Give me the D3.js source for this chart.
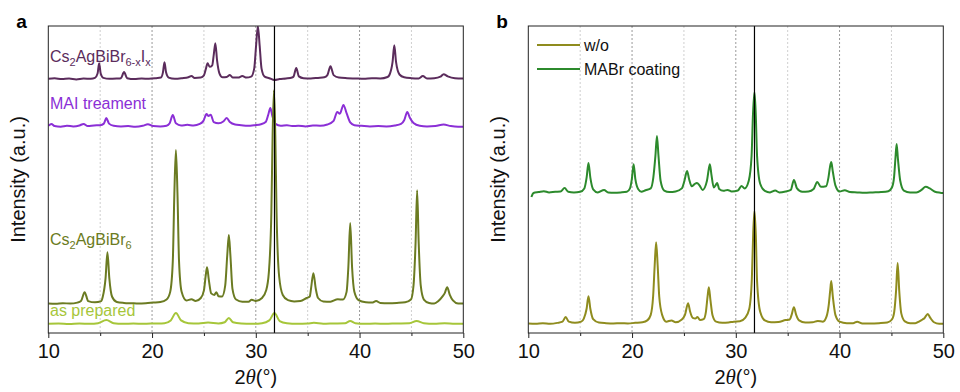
<!DOCTYPE html>
<html>
<head>
<meta charset="utf-8">
<script src="https://cdn.jsdelivr.net/npm/d3@7"></script>
<style>
	body { margin: 0; background: #fff; }
	svg { display: block; font-family: "Liberation Sans", Arial, sans-serif; }
</style>
</head>
<body>
<div id="chart"></div>
<script>
var width = 960;
var height = 392;

// x 轴刻度
var xMajor = [10, 20, 30, 40, 50];
var xMinor = [15, 25, 35, 45];
var refLine = 31.8;

// 各曲线的纵向偏移（a.u.）
var offsetsA = [82.7, 67.1, 9.4, 2.9];
var offsetsB = [2.9, 45.6];

var namesA = ["Cs2AgBiBr6-xIx", "MAI treament", "Cs2AgBiBr6", "as prepared"];
var colorsA = ["#5b2c5c", "#8b2fd6", "#6b7b22", "#a6c63a"];
var namesB = ["w/o", "MABr coating"];
var colorsB = ["#8f8c1e", "#2c8a2c"];

// panel a: Cs2AgBiBr6-xIx
var seriesA1 = [[10,0.1],[10.6,0.3],[11.3,0],[12,0.2],[12.7,-0.1],[13.4,0.2],[14.1,0.1],
	[14.5,0.4],[14.75,1.8],[14.9,5.2],[15.05,1.8],[15.3,0.4],[15.9,0.1],[16.6,0.2],
	[17.0,0.3],[17.3,2.3],[17.6,0.3],[18.3,0],[19.0,0.2],[19.7,0.1],[20.4,0.3],
	[20.85,0.5],[21.05,2.2],[21.2,5.5],[21.35,2.2],[21.6,0.5],[22.2,0.1],[22.9,0.3],[23.5,0.6],[23.8,1.0],[24.1,0.4],[24.7,0.5],
	[25.0,1.2],[25.2,3.5],[25.35,5.2],[25.55,4.0],[25.8,4.5],[25.95,8.0],[26.1,11.7],[26.27,6.0],[26.5,1.8],[26.8,0.6],
	[27.2,0.7],[27.5,1.3],[27.8,0.5],[28.3,0.5],[28.7,1.0],[29.1,0.5],
	[29.55,0.8],[29.85,3.5],[30.03,11],[30.2,17.2],[30.37,11],[30.55,3.5],[30.85,0.8],
	[31.3,0.3],[31.8,-0.3],[32.3,0],[32.9,0.2],[33.5,0.5],[33.65,0.9],[33.9,3.6],[34.15,0.9],
	[34.6,0.3],[35.3,0.2],[36.0,0.4],[36.6,0.6],[36.9,1.3],[37.2,4.2],[37.5,1.3],
	[38.0,0.5],[38.8,0.3],[39.6,0.2],[40.4,0.1],[41.2,0.3],[42.0,0.2],[42.7,0.7],
	[42.9,1.5],[43.18,5.5],[43.35,11],[43.52,5.5],[43.85,1.5],
	[44.3,0.6],[45.0,0.3],[45.7,0.2],[46.1,1.0],[46.5,0.2],[47.2,0.3],[47.8,0.8],[48.1,1.6],[48.5,0.9],[49.2,0.3],[50,0.2]];

// panel a: MAI treament
var seriesA2 = [[10,0.4],[10.3,1.0],[10.6,0.3],[11.2,0.1],[11.8,0.4],[12.4,0.2],[13.0,0.5],[13.4,1.0],[13.8,0.3],[14.4,0.5],[15.0,0.6],
	[15.35,1.1],[15.6,2.9],[15.85,1.1],[16.3,0.4],[17.0,0.2],[17.7,0.3],[18.4,0.1],[19.1,0.4],[19.6,0.9],[20.1,0.3],[20.8,0.2],[21.4,0.4],
	[21.7,1.2],[22.0,3.9],[22.3,1.2],[22.8,0.5],[23.4,0.7],[24.0,0.5],[24.6,1.0],
	[24.95,2.0],[25.25,4.2],[25.45,3.6],[25.65,4.0],[25.95,1.6],
	[26.4,1.2],[26.9,1.9],[27.2,2.9],[27.5,1.6],[28.0,0.8],[28.6,0.6],[29.2,0.4],[29.9,0.6],[30.5,0.9],
	[30.95,1.6],[31.2,4.0],[31.4,6.2],[31.6,3.5],[31.9,1.0],
	[32.4,0.4],[33.0,0.6],[33.5,0.3],[34.1,0.4],[34.8,0.2],[35.5,0.5],[36.2,0.4],[36.9,0.8],
	[37.5,2.0],[37.85,4.9],[38.1,4.3],[38.45,7.2],[38.75,4.5],[39.1,1.5],[39.5,0.6],
	[40.2,0.4],[41.0,0.2],[41.8,0.3],[42.6,0.2],[43.4,0.5],[44.0,1.0],
	[44.3,2.2],[44.6,4.9],[44.85,3.0],[45.2,1.3],
	[45.8,0.4],[46.5,0.2],[47.3,0.3],[48.1,0.8],[48.8,0.3],[49.5,0.1],[50,0.1]];

// panel a: Cs2AgBiBr6
var seriesA3 = [[10,0.2],[10.7,0.1],[11.4,0.3],[12.1,0.2],[12.8,0.5],
	[13.15,1.0],[13.5,3.9],[13.85,1.0],[14.5,0.6],[15.1,1.0],
	[15.25,2.4],[15.52,8.5],[15.7,16.9],[15.88,8.5],[16.15,2.4],
	[16.6,0.7],[17.3,0.4],[18.0,0.3],[18.7,0.2],[19.4,0.3],[20.1,0.5],[20.8,0.7],[21.4,1.5],
	[21.75,4],[22.0,14],[22.15,36],[22.3,50.2],[22.45,36],[22.6,14],[22.85,4],
	[23.3,1.2],[23.8,1.6],[24.2,1.0],[24.7,2.0],
	[25.0,4.5],[25.18,9.5],[25.3,12],[25.47,8],[25.7,3.5],[26.0,3.0],[26.2,3.9],[26.4,2.6],[26.75,2.5],
	[27.05,6],[27.25,16],[27.4,22.5],[27.55,16],[27.75,5],
	[28.1,1.5],[28.7,0.8],[29.3,0.8],[29.6,1.4],[30.0,1.0],[30.6,2.0],[31.0,4.5],
	[31.25,10],[31.5,30],[31.62,55],[31.75,69.7],[31.88,55],[32.0,30],[32.25,9],
	[32.6,3.0],[33.1,1.3],[33.7,0.9],[34.3,1.0],[34.9,2.0],[35.2,2.5],
	[35.32,5],[35.55,10.1],[35.78,5],[36.0,2.0],
	[36.5,0.9],[37.2,0.8],[37.9,1.6],[38.4,1.5],[38.75,4],
	[38.92,12],[39.1,26.4],[39.28,12],[39.5,4],
	[39.9,1.3],[40.6,0.6],[41.2,0.5],[41.6,1.0],[42.0,0.4],[42.8,0.3],[43.6,0.4],[44.4,0.6],[44.95,1.5],
	[45.2,6],[45.4,20],[45.55,37.1],[45.7,20],[45.9,6],
	[46.2,1.5],[46.7,0.4],[47.2,0.2],[47.6,1.0],[48.0,2.5],[48.2,3.5],[48.45,5.5],[48.7,3.0],[49.0,1.2],[49.5,0.2],[50,0.2]];

// panel a: as prepared
var seriesA4 = [[10,0.1],[11,0.2],[12,0],[13,0.2],[14,0.1],[14.8,0.3],[15.6,1.3],[16.3,0.3],[17.2,0.1],[18.2,0.2],[19.2,0.1],
	[20.2,0.2],[21.2,0.3],[21.8,1.2],[22.3,3.6],[22.8,1.2],[23.5,0.3],[24.5,0.2],[25.4,0.5],[26.4,0.2],
	[27.0,0.6],[27.4,2.0],[27.8,0.6],[28.6,0.2],[29.6,0.1],[30.6,0.3],[31.3,1.2],[31.8,3.6],[32.3,1.0],[33.0,0.3],
	[34,0.1],[35,0.2],[35.6,0.4],[36.5,0.1],[37.5,0.2],[38.6,0.3],[39.1,1.0],[39.6,0.3],[40.5,0.1],[41.5,0.2],
	[42.5,0.1],[43.5,0.2],[44.8,0.3],[45.5,1.0],[46.2,0.3],[47.2,0.1],[48.2,0.3],[49.2,0.1],[50,0.1]];

// panel b: w/o
var seriesB1 = [[10,0.2],[10.7,0.1],[11.4,0.3],[12.1,0.1],[12.8,0.4],
	[13.3,0.8],[13.6,2.3],[13.9,0.8],[14.5,0.4],[15.1,0.8],
	[15.35,1.8],[15.62,5.0],[15.8,9.1],[15.98,5.0],[16.25,1.6],
	[16.8,0.5],[17.5,0.3],[18.2,0.2],[18.9,0.3],[19.6,0.2],[20.3,0.4],[21.0,0.6],[21.5,1.3],
	[21.8,3],[22.03,9],[22.18,19],[22.32,26.7],[22.47,19],[22.62,9],[22.9,3],
	[23.3,0.8],[23.8,1.2],[24.2,0.6],[24.8,1.5],
	[25.1,3.0],[25.4,6.8],[25.6,4.0],[25.85,2.0],[26.1,1.8],[26.3,2.3],[26.55,1.3],[26.9,1.6],
	[27.12,4],[27.28,9],[27.4,12],[27.55,8],[27.75,3],
	[28.1,0.8],[28.7,0.4],[29.3,0.5],[29.8,0.8],[30.4,0.9],[30.9,2.0],
	[31.3,5],[31.55,15],[31.68,30],[31.8,36.8],[31.93,29],[32.05,14],[32.35,4],
	[32.8,1.2],[33.4,0.6],[34.1,0.7],[34.8,1.3],[35.2,1.5],
	[35.38,3.0],[35.6,5.5],[35.82,3.0],[36.1,1.2],
	[36.7,0.5],[37.4,0.6],[37.9,1.0],[38.4,0.8],[38.75,2.5],
	[38.95,6],[39.1,11],[39.2,14],[39.35,9],[39.6,3],
	[40.0,0.8],[40.7,0.3],[41.3,0.3],[41.7,0.8],[42.2,0.2],[43.0,0.2],[43.8,0.3],[44.6,0.5],[45.05,1.5],
	[45.27,4],[45.45,11],[45.6,19.9],[45.75,11],[45.95,3.5],
	[46.3,0.9],[46.8,0.3],[47.3,0.3],[47.7,0.9],[48.0,1.5],[48.2,2.0],[48.5,3.3],[48.75,2.0],[49.1,0.6],[49.6,0.1],[50,0.1]];

// panel b: MABr coating
var seriesB2 = [[10.3,-1.3],[10.5,0],[11.0,0.3],[11.5,0.6],[12.0,0.2],[12.6,0.4],[13.1,0.5],
	[13.5,1.6],[13.85,0.4],[14.4,0.2],[15.0,0.4],[15.4,1.5],
	[15.62,5],[15.8,9.8],[15.98,5],[16.25,1.2],
	[16.7,0.2],[17.3,1.0],[17.7,0.2],[18.3,0.1],[18.9,0.2],[19.5,0.4],[19.8,1.5],
	[19.98,4.5],[20.15,9.4],[20.32,4.5],[20.6,1.2],
	[20.9,0.4],[21.3,0.9],[21.8,1.5],
	[22.05,5],[22.25,12],[22.4,18.6],[22.55,12],[22.75,4],
	[23.1,0.8],[23.6,0.3],[24.2,0.5],[24.8,1.5],
	[25.05,4],[25.3,7.2],[25.5,4.5],[25.75,2.2],[26.0,2.8],[26.25,3.3],[26.5,2.5],[26.8,1.0],
	[27.22,4],[27.38,7.5],[27.5,9.4],[27.65,6],[27.88,1.8],
	[28.05,2.5],[28.2,3.3],[28.4,1.3],[28.8,0.7],[29.2,1.0],[29.6,0.5],[30.2,0.8],[30.55,2.3],[30.85,1.5],
	[31.25,4],[31.52,12],[31.66,26],[31.8,32.9],[31.92,26],[32.05,12],[32.35,3],
	[32.8,0.7],[33.3,0.2],[33.8,0.8],[34.2,0.2],[34.8,0.5],[35.3,1.0],[35.6,4.2],[35.9,1.5],
	[36.4,0.4],[37.0,0.5],[37.5,1.3],[37.85,3.6],[38.2,2.0],[38.7,2.2],
	[38.93,5],[39.08,8.5],[39.2,10.1],[39.35,7],[39.6,2.5],
	[40.0,0.5],[40.5,0.9],[41.0,0.3],[41.7,0.2],[42.4,0.1],[43.2,0.2],[44.0,0.3],[44.7,0.6],[45.05,1.8],
	[45.25,5],[45.38,11],[45.5,16],[45.63,11],[45.85,4],
	[46.2,0.8],[46.8,0.2],[47.4,0.2],[47.9,1.0],[48.3,2.0],[48.7,1.5],[49.2,0.4],[49.7,0.1],[50,0.0]];

var top_ = 26, bottom_ = 333;

var svg = d3.select("#chart")
	.append("svg")
	.attr("width", width)
	.attr("height", height);

function drawPanel(left, right, letter, seriesList, offsets, colors, id) {
	var x = d3.scaleLinear().domain([10, 50]).range([left, right]);
	var y = d3.scaleLinear().domain([0, 100]).range([bottom_, top_]);
	var g = svg.append("g");

	g.append("clipPath")
		.attr("id", id)
		.append("rect")
		.attr("x", left)
		.attr("y", top_)
		.attr("width", right - left)
		.attr("height", bottom_ - top_);

	// 网格线
	g.selectAll(".gmin")
		.data(xMinor)
		.join("line")
		.attr("x1", d => x(d)).attr("x2", d => x(d))
		.attr("y1", top_).attr("y2", bottom_)
		.attr("stroke", "#cfcfcf")
		.attr("stroke-dasharray", "2,2");
	g.selectAll(".gmaj")
		.data([20, 30, 40])
		.join("line")
		.attr("x1", d => x(d)).attr("x2", d => x(d))
		.attr("y1", top_).attr("y2", bottom_)
		.attr("stroke", "#9a9a9a")
		.attr("stroke-dasharray", "2,2");

	// 曲线
	var line = d3.line()
		.x(d => x(d[0]))
		.y(d => y(d[1]))
		.curve(d3.curveMonotoneX);
	var lines = g.append("g").attr("clip-path", "url(#" + id + ")");
	seriesList.forEach(function(s, i) {
		lines.append("path")
			.datum(s.map(p => [p[0], p[1] + offsets[i]]))
			.attr("fill", "none")
			.attr("stroke", colors[i])
			.attr("stroke-width", 2)
			.attr("stroke-linejoin", "round")
			.attr("d", line);
	});

	// 参考线
	g.append("line")
		.attr("x1", x(refLine)).attr("x2", x(refLine))
		.attr("y1", top_).attr("y2", bottom_)
		.attr("stroke", "#000")
		.attr("stroke-width", 1.2);

	// 边框
	g.append("rect")
		.attr("x", left).attr("y", top_)
		.attr("width", right - left).attr("height", bottom_ - top_)
		.attr("fill", "none")
		.attr("stroke", "#222")
		.attr("stroke-width", 1);

	// 坐标轴
	var ax = g.append("g")
		.attr("transform", `translate(0,${bottom_})`)
		.call(d3.axisBottom(x).tickValues(xMajor).tickSize(5).tickSizeOuter(0).tickPadding(6));
	ax.select(".domain").remove();
	ax.selectAll("line").attr("stroke", "#222");
	ax.selectAll("text")
		.attr("font-size", 20)
		.attr("font-family", "Liberation Sans, Arial, sans-serif")
		.attr("fill", "#111");
	var axm = g.append("g")
		.attr("transform", `translate(0,${bottom_})`)
		.call(d3.axisBottom(x).tickValues(xMinor).tickSize(3).tickFormat(""));
	axm.select(".domain").remove();
	axm.selectAll("line").attr("stroke", "#222");

	// x 轴标题
	var xt = g.append("text")
		.attr("x", (left + right) / 2)
		.attr("y", 384)
		.attr("text-anchor", "middle")
		.attr("font-size", 20)
		.attr("fill", "#111");
	xt.append("tspan").text("2");
	xt.append("tspan")
		.attr("font-family", "Liberation Serif, Times New Roman, serif")
		.attr("font-style", "italic")
		.attr("font-size", 21)
		.text("θ");
	xt.append("tspan").text("(°)");

	// y 轴标题
	g.append("text")
		.attr("transform", `translate(${left - 23},${(top_ + bottom_) / 2}) rotate(-90)`)
		.attr("text-anchor", "middle")
		.attr("font-size", 20)
		.attr("fill", "#111")
		.text("Intensity (a.u.)");

	// 面板字母
	g.append("text")
		.attr("x", left - 32)
		.attr("y", 28)
		.attr("font-size", 19)
		.attr("font-weight", "bold")
		.attr("fill", "#000")
		.text(letter);

	return g;
}

var ga = drawPanel(48.3, 463.3, "a", [seriesA1, seriesA2, seriesA3, seriesA4], offsetsA, colorsA, "clipA");
var gb = drawPanel(528.3, 943.3, "b", [seriesB1, seriesB2], offsetsB, colorsB, "clipB");

// 带下标的文字
function chemLabel(g, xx, yy, parts, color) {
	var t = g.append("text")
		.attr("x", xx)
		.attr("y", yy)
		.attr("font-size", 16)
		.attr("fill", color);
	parts.forEach(function(p) {
		var sp = t.append("tspan").text(p[0]);
		if (p[1]) sp.attr("font-size", 11).attr("dy", 4);
		else sp.attr("dy", p[2] || 0);
	});
}

chemLabel(ga, 50, 62, [["Cs"], ["2", 1], ["AgBiBr", 0, -4], ["6-x", 1], ["I", 0, -4], ["x", 1]], colorsA[0]);
chemLabel(ga, 50, 109, [[namesA[1]]], colorsA[1]);
chemLabel(ga, 50, 245, [["Cs"], ["2", 1], ["AgBiBr", 0, -4], ["6", 1]], colorsA[2]);
chemLabel(ga, 50, 316, [[namesA[3]]], colorsA[3]);

// 图例
var leg = gb.selectAll(".leg")
	.data(namesB)
	.join("g")
	.attr("transform", (d, i) => `translate(537,${45 + i * 24})`);
leg.append("line")
	.attr("x1", 0).attr("x2", 43)
	.attr("stroke", (d, i) => colorsB[i])
	.attr("stroke-width", 2);
leg.append("text")
	.attr("x", 47)
	.attr("y", 6)
	.attr("font-size", 16)
	.attr("fill", "#111")
	.text(d => d);
</script>
</body>
</html>
